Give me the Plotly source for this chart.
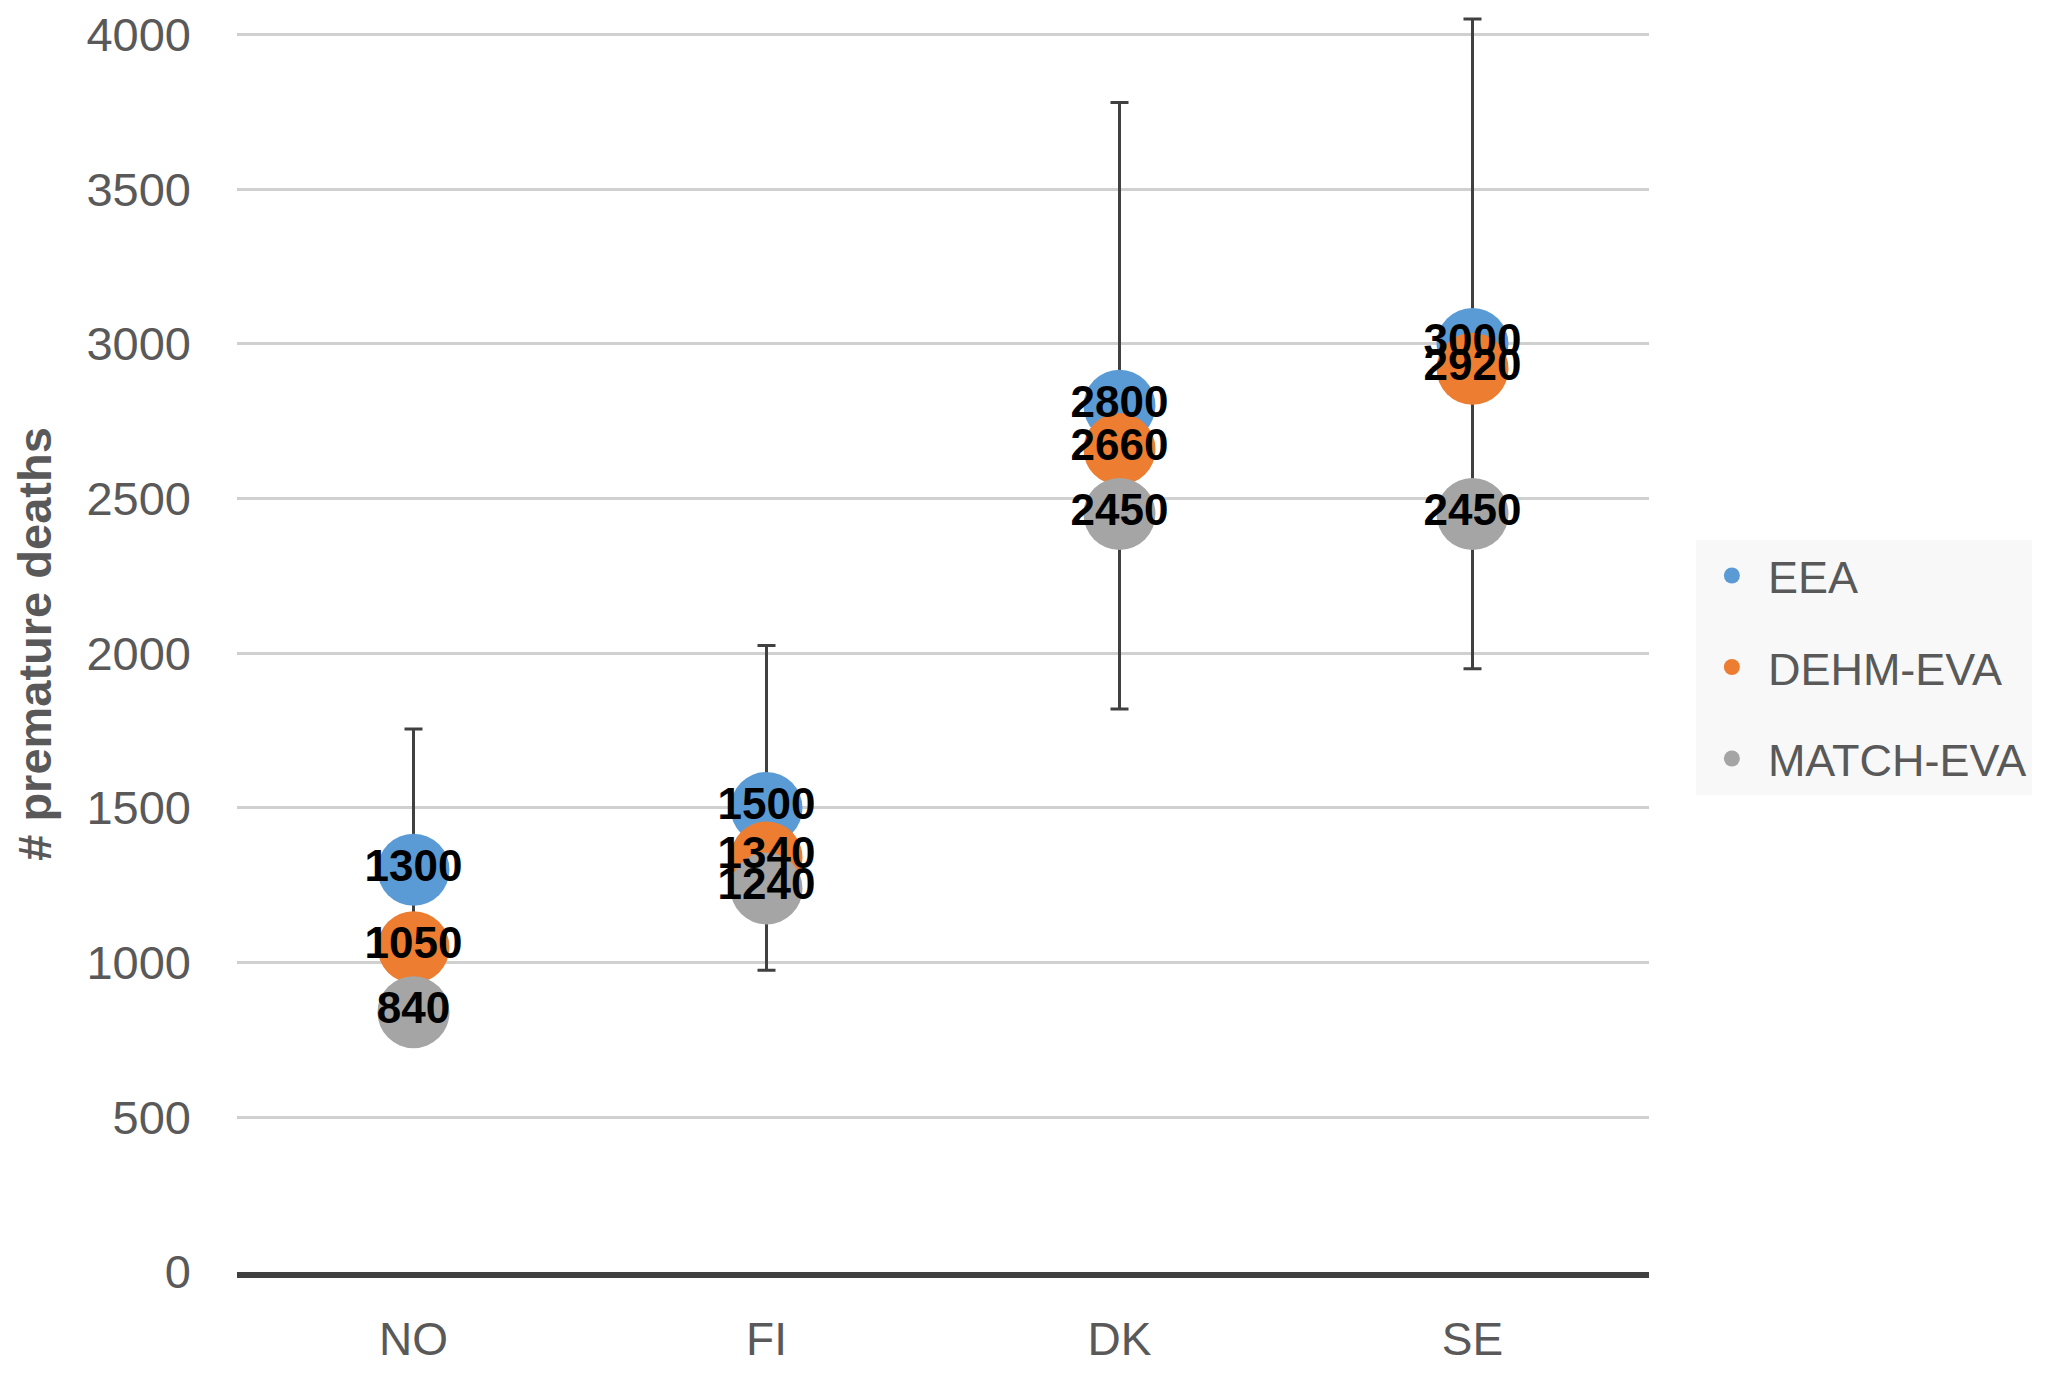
import plotly.graph_objects as go

countries = ["NO", "FI", "DK", "SE"]
series_names = ["EEA", "DEHM-EVA", "MATCH-EVA"]
eea = [1300, 1500, 2800, 3000]
dehm = [1050, 1340, 2660, 2920]
match = [840, 1240, 2450, 2450]
eea_err_plus = [455, 525, 980, 1050]
eea_err_minus = [455, 525, 980, 1050]
y_ticks = [0, 500, 1000, 1500, 2000, 2500, 3000, 3500, 4000]

colors = ["#5B9BD5", "#ED7D31", "#A5A5A5"]
values = [eea, dehm, match]

fig = go.Figure()
for i, (name, vals) in enumerate(zip(series_names, values)):
    kw = {}
    if i == 0:
        kw["error_y"] = dict(type="data", array=eea_err_plus, arrayminus=eea_err_minus,
                             symmetric=False, color="#404040", thickness=3, width=9)
    fig.add_trace(go.Scatter(
        x=countries, y=vals, name=name, mode="markers",
        marker=dict(size=72, color=colors[i], line=dict(width=0)),
        legendgroup=name, cliponaxis=False, **kw))

for i, vals in enumerate(values):
    fig.add_trace(go.Scatter(
        x=countries, y=vals, mode="text", text=[str(v) for v in vals],
        textposition="middle center", showlegend=False, cliponaxis=False,
        textfont=dict(family="Liberation Sans", size=44, color="black", weight="bold"),
        hoverinfo="skip"))

fig.update_layout(
    width=2051, height=1359,
    margin=dict(l=229, r=410, t=8, b=95, autoexpand=False),
    paper_bgcolor="white", plot_bgcolor="white",
    font=dict(family="Liberation Sans", color="#595959"),
    showlegend=True,
    legend=dict(x=1.0332, y=0.583, xanchor="left", yanchor="top",
                bgcolor="#f8f8f8", borderwidth=0,
                font=dict(size=45, color="#595959"),
                tracegroupgap=30, itemsizing="trace", itemwidth=62),
)
fig.update_xaxes(
    type="category", range=[-0.5, 3.5], showgrid=False, automargin=False,
    showline=True, linecolor="#404040", linewidth=6,
    ticks="", tickfont=dict(size=46, color="#595959"), ticklabelstandoff=22,
)
fig.update_yaxes(
    range=[0, 4060], tickvals=y_ticks, ticktext=[str(v) for v in y_ticks],
    showgrid=True, gridcolor="#d0d0d0", gridwidth=2.5, zeroline=False, automargin=False,
    ticks="", tickfont=dict(size=47, color="#595959"), ticklabelstandoff=45,
    title=dict(text="# premature deaths", standoff=22,
               font=dict(size=47, color="#595959", weight="bold")),
)

fig.write_html("out.html")
